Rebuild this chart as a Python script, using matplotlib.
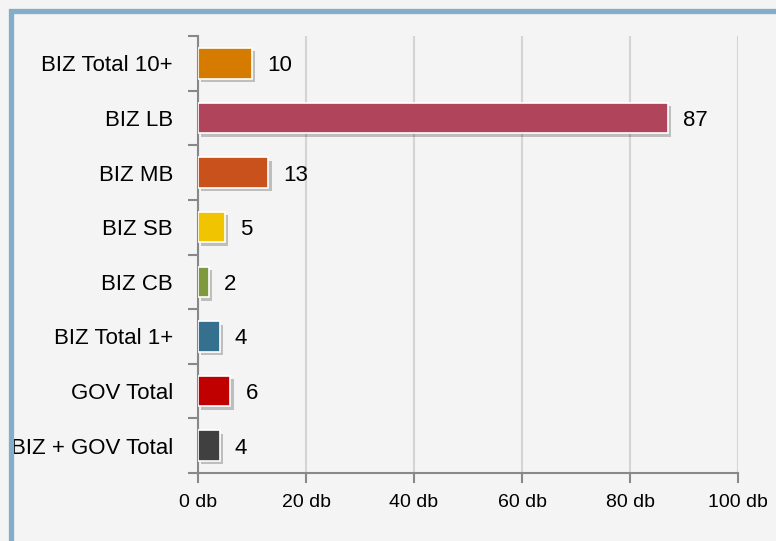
import matplotlib
matplotlib.use('Agg')
from matplotlib import pyplot as plt
from matplotlib import patheffects as pe
from matplotlib import font_manager
from matplotlib.patches import Rectangle

categories = ['BIZ Total 10+', 'BIZ LB', 'BIZ MB', 'BIZ SB', 'BIZ CB',
              'BIZ Total 1+', 'GOV Total', 'BIZ + GOV Total']
values = [10, 87, 13, 5, 2, 4, 6, 4]
colors = ['#d57b00', '#b0445a', '#c8511c', '#f0c400', '#7f9a3c',
          '#35708f', '#c00000', '#404040']
xticks = [0, 20, 40, 60, 80, 100]
xtick_labels = ['%d db' % t for t in xticks]

# narrow font if there is one, else plain Liberation Sans
names = set(f.name for f in font_manager.fontManager.ttflist)
if 'Liberation Sans Narrow' in names:
    plt.rcParams['font.family'] = ['Liberation Sans Narrow', 'DejaVu Sans']
    lab_size, tick_size = 18, 15.5
else:
    plt.rcParams['font.family'] = ['Liberation Sans', 'DejaVu Sans']
    lab_size, tick_size = 16, 14
bg = '#f4f4f4'

fig = plt.figure(figsize=(7.76, 5.41), dpi=100, facecolor=bg)
W, H = 776, 541
# blue frame, only left and top show in the picture
fig.patches.append(Rectangle((10.5 / W, -0.2), 1.5, 1.2 - 10.5 / H,
                             transform=fig.transFigure, fill=False,
                             edgecolor='#84adcb', lw=3.8))

ax = fig.add_axes([198 / W, 1 - 473 / H, 540 / W, 437 / H])
ax.set_facecolor(bg)

pos = list(range(len(categories)))
bars = ax.barh(pos, values, height=0.56, color=colors, edgecolor='white',
               linewidth=1.2, zorder=3)
for b in bars:
    b.set_path_effects([pe.SimplePatchShadow(offset=(2.5, -2.5), shadow_rgbFace='#000000', alpha=0.22),
                        pe.Normal()])

for p, v in zip(pos, values):
    ax.annotate(str(v), (v, p), xytext=(11, 0), textcoords='offset points',
                va='center_baseline', ha='left', fontsize=lab_size)

ax.set_xlim(0, 100)
ax.set_ylim(len(categories) - 0.5, -0.5)
ax.set_xticks(xticks)
ax.set_xticklabels(xtick_labels, fontsize=tick_size)
ax.set_yticks(pos)
ax.set_yticklabels(categories, fontsize=lab_size)
for t in ax.get_yticklabels():
    t.set_verticalalignment('center_baseline')
ax.set_yticks([p + 0.5 for p in range(-1, len(categories))], minor=True)
ax.tick_params(axis='y', which='major', length=0, pad=18)
ax.tick_params(axis='y', which='minor', length=7, color='#888888', width=1.5, direction='out')
ax.tick_params(axis='x', length=7, color='#888888', width=1.5, pad=8)

ax.grid(axis='x', color='#d4d4d4', lw=1.5, zorder=0)
for s in ['top', 'right']:
    ax.spines[s].set_visible(False)
for s in ['left', 'bottom']:
    ax.spines[s].set_color('#888888')
    ax.spines[s].set_linewidth(1.5)

fig.savefig('out.png', dpi=100, facecolor=bg)
